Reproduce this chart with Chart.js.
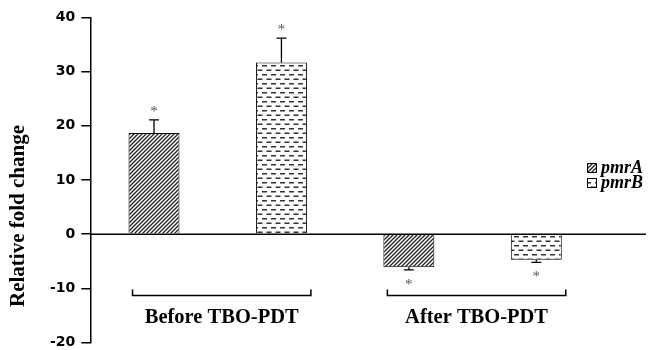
<!DOCTYPE html>
<html>
<head>
<meta charset="utf-8">
<title>Relative fold change - pmrA / pmrB</title>
<script src="https://cdn.jsdelivr.net/npm/chart.js@4.4.0/dist/chart.umd.min.js"></script>
<style>
  html, body { margin: 0; padding: 0; background: #fff; }
  #wrap { width: 650px; height: 350px; }
</style>
</head>
<body>
<div id="wrap"><canvas id="foldChart"></canvas></div>
<script>
// data
const groups = ['Before TBO-PDT', 'After TBO-PDT'];
const genes = ['pmrA', 'pmrB'];
const pmrA = [18.7, -6.1];
const pmrB = [31.7, -4.7];
const pmrAErr = [2.4, 0.5];
const pmrBErr = [4.5, 0.5];
const yTicks = [-20, -10, 0, 10, 20, 30, 40];

// fill patterns
function hatchPattern() {
    var c = document.createElement('canvas');
    c.width = 4; c.height = 4;
    var g = c.getContext('2d');
    g.fillStyle = '#fff';
    g.fillRect(0, 0, 4, 4);
    g.strokeStyle = '#222';
    g.lineWidth = 1.3;
    g.beginPath();
    g.moveTo(0, 4); g.lineTo(4, 0);
    g.moveTo(-1, 1); g.lineTo(1, -1);
    g.moveTo(3, 5); g.lineTo(5, 3);
    g.stroke();
    return g.createPattern(c, 'repeat');
}

function dashPattern() {
    var c = document.createElement('canvas');
    c.width = 9; c.height = 9;
    var g = c.getContext('2d');
    g.fillStyle = '#fff';
    g.fillRect(0, 0, 9, 9);
    g.fillStyle = '#333';
    g.fillRect(1, 2, 5, 1.5);
    g.fillRect(5.5, 6.5, 5, 1.5);
    g.fillRect(-3.5, 6.5, 5, 1.5);
    return g.createPattern(c, 'repeat');
}

// zero line, error bars, asterisks, group brackets, legend and axis title
const decorations = {
    id: 'decorations',
    afterDatasetsDraw(chart) {
        const ctx = chart.ctx;
        const area = chart.chartArea;
        const y = chart.scales.y;
        const zeroY = y.getPixelForValue(0);
        const errs = [pmrAErr, pmrBErr];
        ctx.save();

        ctx.strokeStyle = '#000';
        ctx.lineWidth = 1.5;
        ctx.beginPath();
        ctx.moveTo(area.left, zeroY);
        ctx.lineTo(chart.width - 4, zeroY);
        ctx.stroke();

        chart.data.datasets.forEach(function(ds, di) {
            chart.getDatasetMeta(di).data.forEach(function(bar, i) {
                var v = ds.data[i];
                var sign = v >= 0 ? 1 : -1;
                var tipY = y.getPixelForValue(v + sign * errs[di][i]);
                ctx.strokeStyle = '#000';
                ctx.lineWidth = 1.3;
                ctx.beginPath();
                ctx.moveTo(bar.x, bar.y);
                ctx.lineTo(bar.x, tipY);
                ctx.moveTo(bar.x - 5, tipY);
                ctx.lineTo(bar.x + 5, tipY);
                ctx.stroke();
                ctx.fillStyle = '#555';
                ctx.font = '15px "Liberation Serif"';
                ctx.textAlign = 'center';
                ctx.textBaseline = 'middle';
                ctx.fillText('*', bar.x, sign > 0 ? tipY - 8 : tipY + 15);
            });
        });

        // brackets under each group
        var bracketY = y.getPixelForValue(-11.3);
        var labelY = y.getPixelForValue(-15.5);
        groups.forEach(function(name, i) {
            var bars = chart.data.datasets.map(function(ds, di) {
                return chart.getDatasetMeta(di).data[i];
            });
            var left = Math.min.apply(null, bars.map(function(b) { return b.x - b.width / 2; })) + 4;
            var right = Math.max.apply(null, bars.map(function(b) { return b.x + b.width / 2; })) + 4;
            ctx.strokeStyle = '#000';
            ctx.lineWidth = 1.5;
            ctx.beginPath();
            ctx.moveTo(left, bracketY - 6);
            ctx.lineTo(left, bracketY);
            ctx.lineTo(right, bracketY);
            ctx.lineTo(right, bracketY - 6);
            ctx.stroke();
            ctx.fillStyle = '#000';
            ctx.font = 'bold 20.5px "Liberation Serif"';
            ctx.textAlign = 'center';
            ctx.textBaseline = 'middle';
            ctx.fillText(name, (left + right) / 2, labelY);
        });

        // legend
        chart.data.datasets.forEach(function(ds, di) {
            var ly = 168 + di * 15;
            ctx.fillStyle = ds.backgroundColor;
            ctx.fillRect(587, ly - 5, 10, 10);
            ctx.strokeStyle = '#000';
            ctx.lineWidth = 1;
            ctx.strokeRect(587.5, ly - 4.5, 9, 9);
            ctx.fillStyle = '#000';
            ctx.font = 'italic bold 18px "Liberation Serif"';
            ctx.textAlign = 'left';
            ctx.textBaseline = 'middle';
            ctx.fillText(ds.label, 601, ly);
        });

        // y axis title
        ctx.translate(19, 216);
        ctx.rotate(-Math.PI / 2);
        ctx.fillStyle = '#000';
        ctx.font = 'bold 21px "Liberation Serif"';
        ctx.textAlign = 'center';
        ctx.textBaseline = 'middle';
        ctx.fillText('Relative fold change', 0, 0);
        ctx.restore();
    }
};

var ctx = document.getElementById('foldChart').getContext('2d');
var foldChart = new Chart(ctx, {
    type: 'bar',
    data: {
        labels: groups,
        datasets: [{
            label: genes[0],
            data: pmrA,
            backgroundColor: hatchPattern(),
            borderColor: '#000',
            borderWidth: 1
        }, {
            label: genes[1],
            data: pmrB,
            backgroundColor: dashPattern(),
            borderColor: '#000',
            borderWidth: 1
        }]
    },
    options: {
        responsive: true,
        maintainAspectRatio: false,
        animation: false,
        categoryPercentage: 1.0,
        barPercentage: 0.4,
        layout: { padding: { left: 44, top: 17.5, bottom: 7.5, right: 50 } },
        plugins: {
            tooltip: { enabled: false },
            legend: { display: false }
        },
        scales: {
            x: { display: false },
            y: {
                min: yTicks[0],
                max: yTicks[yTicks.length - 1],
                afterBuildTicks: function(scale) {
                    scale.ticks = yTicks.map(function(v) { return { value: v }; });
                },
                afterFit: function(scale) {
                    scale.paddingTop = 0;
                    scale.paddingBottom = 0;
                },
                border: { color: '#000', width: 1.5 },
                grid: { drawOnChartArea: false, drawTicks: true, tickLength: 9, color: '#000', lineWidth: 1.5 },
                ticks: {
                    padding: 6,
                    color: '#000',
                    font: { family: 'DejaVu Sans', size: 14, weight: 'bold' }
                }
            }
        }
    },
    plugins: [decorations]
});
</script>
</body>
</html>
